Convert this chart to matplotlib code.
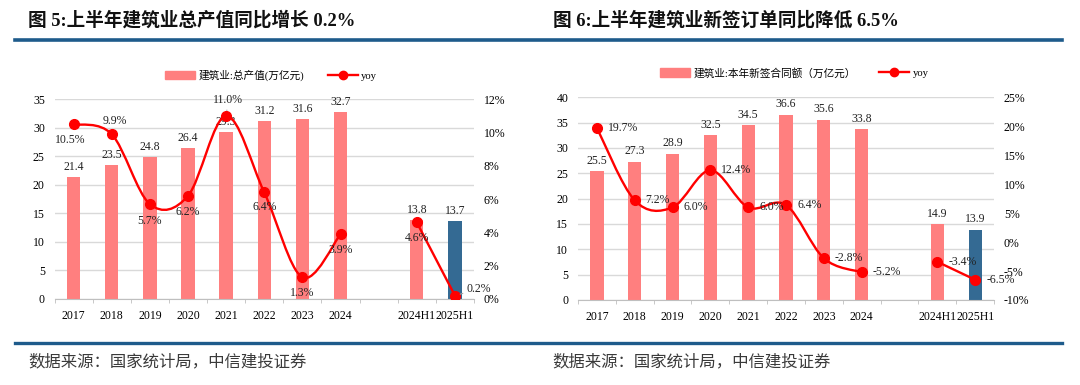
import numpy as np
import matplotlib
matplotlib.use("Agg")
import matplotlib.pyplot as plt
from matplotlib.path import Path
from matplotlib.patches import PathPatch, Patch
from matplotlib.lines import Line2D
from matplotlib.ticker import FuncFormatter, MultipleLocator

plt.rcParams['font.family'] = ['Liberation Serif', 'Noto Sans CJK SC', 'DejaVu Sans']
plt.rcParams['axes.unicode_minus'] = False

# ---- data ----
categories = ['2017', '2018', '2019', '2020', '2021', '2022', '2023', '2024', '2024H1', '2025H1']

output_value = [21.4, 23.5, 24.8, 26.4, 29.3, 31.2, 31.6, 32.7, 13.8, 13.7]
output_yoy = [10.5, 9.9, 5.7, 6.2, 11.0, 6.4, 1.3, 3.9, 4.6, 0.2]

orders_value = [25.5, 27.3, 28.9, 32.5, 34.5, 36.6, 35.6, 33.8, 14.9, 13.9]
orders_yoy = [19.7, 7.2, 6.0, 12.4, 6.0, 6.4, -2.8, -5.2, -3.4, -6.5]

title_left = '图 5:上半年建筑业总产值同比增长 0.2%'
title_right = '图 6:上半年建筑业新签订单同比降低 6.5%'
legend_left = '建筑业:总产值(万亿元)'
legend_right = '建筑业:本年新签合同额（万亿元）'
source_text = '数据来源：国家统计局，中信建投证券'

PINK = '#FF7F7F'
NAVY = '#346A93'
RED = '#FF0000'
RULE = '#1E5B8B'
GRID = '#D9D9D9'

# annual slots 0..7, blank slot 8, half-year slots 9, 10
xpos = np.array(list(range(8)) + [9, 10], dtype=float)
annual = slice(0, 8)
half = slice(8, 10)


def smooth_path(xs, ys):
    # Excel-like smoothed line (Catmull-Rom as cubic Bezier)
    pts = np.column_stack([xs, ys])
    n = len(pts)
    verts = [pts[0]]
    codes = [Path.MOVETO]
    for i in range(n - 1):
        p0 = pts[max(i - 1, 0)]
        p1 = pts[i]
        p2 = pts[i + 1]
        p3 = pts[min(i + 2, n - 1)]
        verts += [p1 + (p2 - p0) / 6, p2 - (p3 - p1) / 6, p2]
        codes += [Path.CURVE4] * 3
    return Path(verts, codes)


def draw_panel(rect, values, yoy, ylim, ystep, y2lim, y2step, legend_label,
               label_offsets, legend_anchor):
    ax = fig.add_axes(rect)
    colors = [PINK] * 9 + [NAVY]
    ax.bar(xpos, values, width=0.35, color=colors, zorder=2)
    for x, v in zip(xpos, values):
        ax.annotate(f'{v:.1f}', (x, v), xytext=(0, 3), textcoords='offset points',
                    ha='center', va='bottom', fontsize=8.5, color='#222222')
    ax.set_xlim(-0.5, 10.5)
    ax.set_ylim(*ylim)
    ax.yaxis.set_major_locator(MultipleLocator(ystep))
    ax.grid(axis='y', color=GRID, lw=1.0, zorder=0)
    ax.set_axisbelow(True)
    ax.set_xticks(xpos)
    ax.set_xticklabels(categories)
    ax.set_xticks(np.arange(-0.5, 11, 1), minor=True)
    ax.tick_params(axis='x', which='major', length=0, pad=8, labelsize=8.5)
    ax.tick_params(axis='x', which='minor', length=3, color='#BFBFBF')
    ax.tick_params(axis='y', length=0, pad=7, labelsize=8.5)
    for s in ['top', 'left', 'right']:
        ax.spines[s].set_visible(False)
    ax.spines['bottom'].set_color('#BFBFBF')

    ax2 = ax.twinx()
    ax2.set_ylim(*y2lim)
    ax2.yaxis.set_major_locator(MultipleLocator(y2step))
    ax2.yaxis.set_major_formatter(FuncFormatter(lambda v, p: f'{v:.0f}%'))
    ax2.tick_params(axis='y', length=0, pad=7, labelsize=8.5)
    for s in ax2.spines.values():
        s.set_visible(False)

    yoy = np.array(yoy)
    for sl in (annual, half):
        ax2.add_patch(PathPatch(smooth_path(xpos[sl], yoy[sl]), fill=False,
                                ec=RED, lw=1.7, zorder=3))
    ax2.plot(xpos, yoy, 'o', color=RED, ms=7, zorder=4)
    for x, v, off in zip(xpos, yoy, label_offsets):
        dx, dy, ha, lead = off
        kw = {}
        if lead:
            kw['arrowprops'] = dict(arrowstyle='-', color='#A6A6A6', lw=0.8,
                                    shrinkA=1, shrinkB=4)
        ax2.annotate(f'{v:.1f}%', (x, v), xytext=(dx * 0.72, dy * 0.72),
                     textcoords='offset points', ha=ha, va='center',
                     fontsize=8.5, color='#222222', zorder=5, **kw)

    handles = [Patch(color=PINK),
               Line2D([], [], color=RED, lw=1.7, marker='o', ms=6)]
    ax.legend(handles, [legend_label, 'yoy'], loc='center',
              bbox_to_anchor=legend_anchor, ncol=2, frameon=False,
              fontsize=7.7, handlelength=2.8, handleheight=0.9,
              columnspacing=2.2, handletextpad=0.3)
    return ax, ax2


fig = plt.figure(figsize=(10.8, 3.85), dpi=100)

# offsets in pixels (dx, dy, ha, leader)
left_offsets = [(-3, -16, 'center', False), (3, 13, 'center', False),
                (0, -17, 'center', False), (0, -16, 'center', False),
                (2, 16, 'center', True), (0, -15, 'center', False),
                (0, -16, 'center', False), (0, -16, 'center', False),
                (0, -16, 'center', False), (12, 7, 'left', True)]
right_offsets = [(11, 0, 'left', False)] * 10

draw_panel([0.0505, 0.2234, 0.3884, 0.5187], output_value, output_yoy,
           (0, 35), 5, (0, 12), 2, legend_left, left_offsets, (0.516, 1.12))
draw_panel([0.5352, 0.2208, 0.3852, 0.5265], orders_value, orders_yoy,
           (0, 40), 5, (-10, 25), 5, legend_right, right_offsets, (0.52, 1.12))

# titles, rules and source notes
fig.text(0.026, 0.948, title_left, fontsize=13.4, fontweight='bold',
         ha='left', va='center', color='#111111')
fig.text(0.512, 0.948, title_right, fontsize=13.4, fontweight='bold',
         ha='left', va='center', color='#111111')
fig.add_artist(Line2D([0.0139, 0.983], [0.896, 0.896], color=RULE, lw=2.6))
fig.add_artist(Line2D([0.0139, 0.983], [0.109, 0.109], color=RULE, lw=2.4))
fig.text(0.026, 0.060, source_text, fontsize=11.8, ha='left', va='center',
         color='#3A3A3A')
fig.text(0.511, 0.060, source_text, fontsize=11.8, ha='left', va='center',
         color='#3A3A3A')

fig.savefig('out.png', dpi=100)
